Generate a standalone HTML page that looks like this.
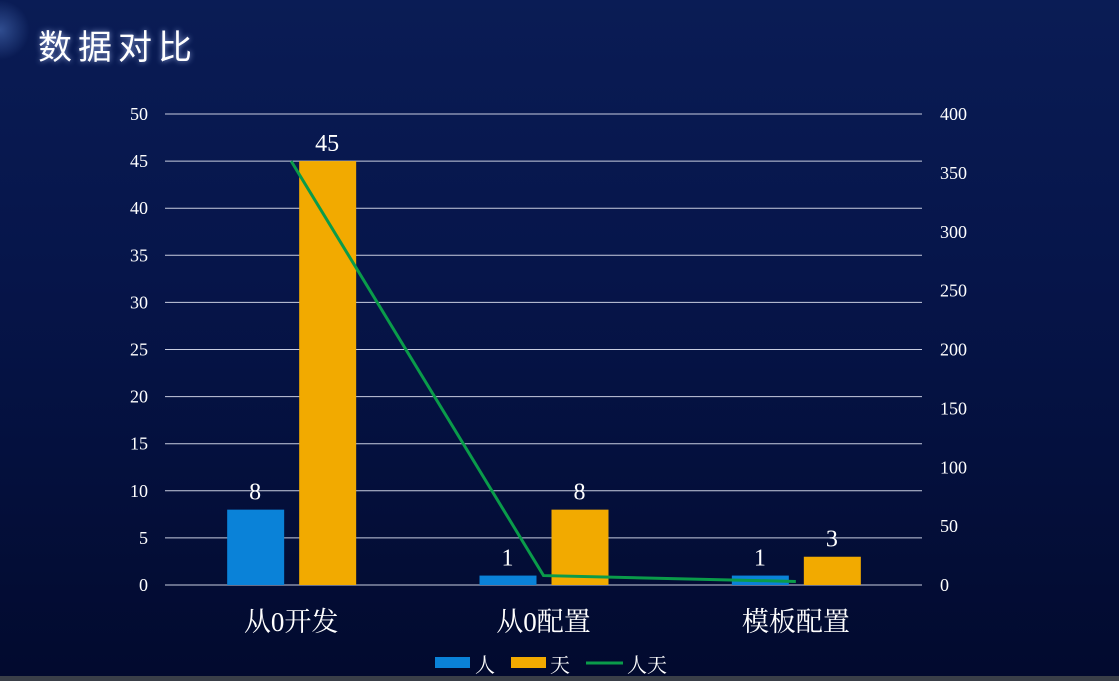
<!DOCTYPE html>
<html><head><meta charset="utf-8"><style>
html,body{margin:0;padding:0;}
body{width:1119px;height:681px;overflow:hidden;background:linear-gradient(180deg,#0a1c55 0%,#06154a 40%,#020a2e 100%);position:relative;font-family:"Liberation Serif","Noto Serif CJK SC",serif;}
#title{position:absolute;left:38px;top:20px;color:#fff;font:34px "Liberation Sans","Noto Sans CJK SC",sans-serif;letter-spacing:6px;text-shadow:0 0 6px rgba(180,200,255,.8);}
#strip{position:absolute;left:0;top:676px;width:1119px;height:5px;background:#3a3f48;}
#glow{position:absolute;left:-30px;top:0px;width:60px;height:60px;background:radial-gradient(circle,rgba(120,170,255,.35),rgba(0,0,0,0) 70%);}
</style></head><body>
<div id="glow"></div>
<div id="title">数据对比</div>
<svg id="chart" width="1119" height="681" style="position:absolute;left:0;top:0"></svg>
<div id="strip"></div>
<script>
const categories=["从0开发","从0配置","模板配置"];
const people=[8,1,1];
const days=[45,8,3];
const personDays=[360,8,3];
const leftTicks=[0,5,10,15,20,25,30,35,40,45,50];
const rightTicks=[0,50,100,150,200,250,300,350,400];
const NS="http://www.w3.org/2000/svg";
const svg=document.getElementById('chart');
const x0=165,x1=922,yTop=114,yBot=585;
const yL=v=>yBot-(v/50)*(yBot-yTop);
const yR=v=>yBot-(v/400)*(yBot-yTop);
const band=(x1-x0)/categories.length;
const cx=i=>x0+band*(i+0.5);
function mk(tag,attrs,txt){const e=document.createElementNS(NS,tag);for(const k in attrs)e.setAttribute(k,attrs[k]);if(txt!=null)e.textContent=txt;svg.appendChild(e);return e;}
leftTicks.forEach(t=>{
 const g=mk('line',{x1:x0,x2:x1,y1:yL(t),y2:yL(t),stroke:'#c8cde0','stroke-width':1});
 
 const l=mk('text',{x:148,y:yL(t)+6,fill:'#fff','font-size':18,'text-anchor':'end'},t);
 
});
rightTicks.forEach(t=>{
 const l=mk('text',{x:940,y:yR(t)+6,fill:'#fff','font-size':18},t);
 
});
const bw=57;
categories.forEach((c,i)=>{
 const x=cx(i);
 const b1=mk('rect',{x:x-64,y:yL(people[i]),width:bw,height:yBot-yL(people[i]),fill:'#0a82d8'});
 
 const b2=mk('rect',{x:x+8,y:yL(days[i]),width:bw,height:yBot-yL(days[i]),fill:'#f2aa00'});
 
 const v1=mk('text',{x:x-36,y:yL(people[i])-10,fill:'#fff','font-size':24,'text-anchor':'middle'},people[i]);
 
 const v2=mk('text',{x:x+36,y:yL(days[i])-10,fill:'#fff','font-size':24,'text-anchor':'middle'},days[i]);
 
 const cl=mk('text',{x:x,y:631,fill:'#fff','font-size':27,'text-anchor':'middle'},c);
 
});
const pts=personDays.map((v,i)=>cx(i)+','+yR(v)).join(' ');
const ln=mk('polyline',{points:pts,fill:'none',stroke:'#0a9b4a','stroke-width':3});

const lg1=mk('rect',{x:435,y:657,width:35,height:11,fill:'#0a82d8'});

const lt1=mk('text',{x:475,y:672,fill:'#fff','font-size':20},'人');

const lg2=mk('rect',{x:511,y:657,width:35,height:11,fill:'#f2aa00'});

const lt2=mk('text',{x:550,y:672,fill:'#fff','font-size':20},'天');

const lg3=mk('line',{x1:586,x2:623,y1:663,y2:663,stroke:'#0a9b4a','stroke-width':3});

const lt3=mk('text',{x:627,y:672,fill:'#fff','font-size':20},'人天');

</script>
</body></html>
